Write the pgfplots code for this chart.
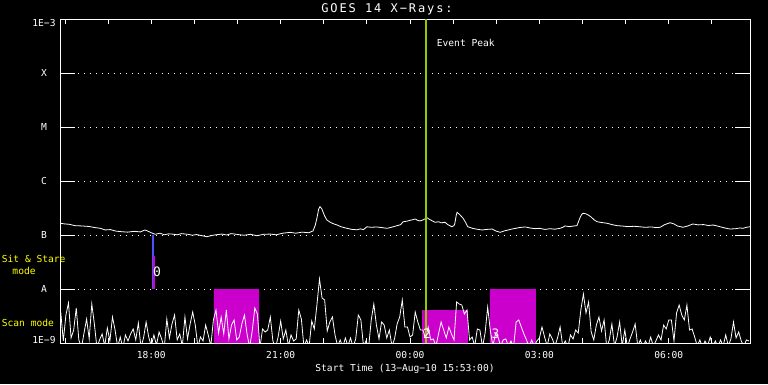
\documentclass[border=0pt]{standalone}
\usepackage{pgfplots}
\pgfplotsset{compat=1.18}
\usepackage{fontspec}
\setmainfont{DejaVu Sans Mono}
\newfontfamily\idlwidefam[LetterSpace=16]{DejaVu Sans Mono}
\newcommand{\idl}{\fontsize{9.6pt}{11pt}\selectfont}
\newcommand{\idltitle}{\idlwidefam\fontsize{12pt}{14pt}\selectfont}
\definecolor{scanmag}{RGB}{204,0,204}
\definecolor{evgreen}{RGB}{150,200,0}
\definecolor{ssblue}{RGB}{80,80,255}
\definecolor{idlyellow}{RGB}{255,255,0}
\begin{document}
\begin{tikzpicture}[x=1pt,y=1pt]
\fill[black] (0,0) rectangle (768,384);
\useasboundingbox (0,0) rectangle (768,384);
\begin{axis}[
  at={(60pt,41pt)}, anchor=south west,
  scale only axis, width=690pt, height=324pt,
  xmin=15.883, xmax=31.883,
  ymode=log, ymin=1, ymax=1000000,
  axis line style={white, line width=1pt},
  xtick={18,21,24,27,30},
  xticklabels={18:00,21:00,00:00,03:00,06:00},
  minor xtick={16,17,19,20,22,23,25,26,28,29,31},
  major tick length=5pt, minor tick length=5pt,
  tick style={white, line width=1pt},
  ytick={1,10,100,1000,10000,100000,1000000},
  yticklabels={,A,B,C,M,X,},
  ytick style={draw=none},
  yminorticks=false,
  ymajorgrids,
  major grid style={white, line width=0.9pt, dash pattern=on 1pt off 5pt},
  tick label style={white, font=\idl},
  xticklabel style={anchor=center, yshift=-12pt},
  yticklabel style={anchor=center, xshift=-16pt},
  clip=true,
]
% scan-mode rectangles
\addplot[fill=scanmag, draw=none] coordinates {(19.45,1) (19.45,10) (20.50,10) (20.50,1) (19.45,1)};
\addplot[fill=scanmag, draw=none] coordinates {(24.28,1) (24.28,4.08) (25.34,4.08) (25.34,1) (24.28,1)};
\addplot[fill=scanmag, draw=none] coordinates {(25.85,1) (25.85,10) (26.92,10) (26.92,1) (25.85,1)};
% short channel (units of 1E-9)
\addplot[white, line width=0.8pt] coordinates {
(15.90,3.75) (15.96,1.09) (16.02,3.30) (16.08,5.51) (16.14,1.24) (16.20,1.74) (16.26,4.45) (16.32,1.14)
(16.38,0.81) (16.44,1.53) (16.50,2.78) (16.56,1.19) (16.62,5.28) (16.68,2.25) (16.74,0.81) (16.80,1.14)
(16.86,1.47) (16.92,0.88) (16.98,1.90) (17.04,1.09) (17.10,3.03) (17.16,1.74) (17.22,0.84) (17.28,1.29)
(17.34,0.81) (17.40,1.41) (17.46,1.09) (17.52,1.47) (17.58,1.82) (17.64,1.14) (17.70,2.35) (17.76,0.84)
(17.82,1.24) (17.88,2.45) (17.94,1.29) (18.00,0.88) (18.06,1.41) (18.12,0.92) (18.18,1.60) (18.24,1.19)
(18.30,0.81) (18.36,2.78) (18.42,1.24) (18.48,2.25) (18.54,3.30) (18.60,1.14) (18.66,1.47) (18.72,0.88)
(18.78,3.03) (18.84,1.19) (18.90,2.25) (18.96,3.75) (19.02,2.15) (19.08,0.84) (19.14,1.29) (19.20,1.09)
(19.26,2.15) (19.32,1.41) (19.38,0.88) (19.44,2.67) (19.50,4.08) (19.56,1.53) (19.62,3.03) (19.68,1.47)
(19.74,4.08) (19.80,1.19) (19.86,2.15) (19.92,2.67) (19.98,1.14) (20.04,1.29) (20.10,2.25) (20.16,3.30)
(20.22,1.47) (20.28,0.84) (20.34,1.67) (20.40,4.45) (20.46,3.44) (20.52,0.84) (20.58,1.82) (20.64,1.60)
(20.70,1.74) (20.76,3.03) (20.82,1.09) (20.88,0.81) (20.94,1.29) (21.00,2.55) (21.06,1.19) (21.12,1.74)
(21.18,0.88) (21.24,1.41) (21.30,1.09) (21.36,1.19) (21.42,4.08) (21.48,2.78) (21.54,0.84) (21.60,1.14)
(21.66,0.88) (21.72,2.55) (21.78,1.82) (21.84,5.05) (21.90,15.3) (21.96,6.81) (22.02,6.26) (22.08,1.67)
(22.14,2.45) (22.20,3.03) (22.26,1.41) (22.32,0.88) (22.38,1.14) (22.44,0.84) (22.50,1.24) (22.56,0.88)
(22.62,1.24) (22.68,0.84) (22.74,1.19) (22.80,3.30) (22.86,2.67) (22.92,0.88) (22.98,1.09) (23.04,0.84)
(23.10,2.67) (23.16,5.28) (23.22,2.15) (23.28,1.19) (23.34,2.45) (23.40,2.15) (23.46,1.24) (23.52,1.74)
(23.58,0.88) (23.64,1.19) (23.70,2.25) (23.76,3.03) (23.82,6.26) (23.88,1.98) (23.94,1.98) (24.00,1.29)
(24.06,1.41) (24.12,3.75) (24.18,2.45) (24.24,1.74) (24.30,1.74) (24.36,1.19) (24.42,1.98) (24.48,1.14)
(24.54,1.19) (24.60,0.88) (24.66,1.47) (24.72,2.45) (24.78,1.74) (24.84,1.24) (24.90,1.98) (24.96,1.47)
(25.02,1.14) (25.08,5.75) (25.14,5.28) (25.20,5.05) (25.26,3.44) (25.32,4.08) (25.38,1.14) (25.44,1.29)
(25.50,0.88) (25.56,1.82) (25.62,1.74) (25.68,0.84) (25.74,1.53) (25.80,4.64) (25.86,1.74) (25.92,0.88)
(25.98,1.47) (26.04,1.29) (26.10,0.88) (26.16,1.14) (26.22,1.19) (26.28,0.88) (26.34,1.09) (26.40,0.84)
(26.46,2.45) (26.52,2.67) (26.58,1.98) (26.64,1.47) (26.70,1.14) (26.76,0.84) (26.82,1.14) (26.88,0.88)
(26.94,1.09) (27.00,1.24) (27.06,1.98) (27.12,1.29) (27.18,0.88) (27.24,1.47) (27.30,1.19) (27.36,0.88)
(27.42,1.24) (27.48,1.98) (27.54,0.88) (27.60,1.09) (27.66,0.84) (27.72,1.41) (27.78,1.19) (27.84,1.74)
(27.90,1.53) (27.96,4.08) (28.02,8.08) (28.08,3.59) (28.14,5.75) (28.20,1.60) (28.26,1.14) (28.32,2.15)
(28.38,3.03) (28.44,1.67) (28.50,2.67) (28.56,0.84) (28.62,1.14) (28.68,2.25) (28.74,0.88) (28.80,1.29)
(28.86,2.45) (28.92,0.88) (28.98,1.74) (29.04,0.84) (29.10,1.19) (29.16,1.60) (29.22,2.25) (29.28,0.88)
(29.34,1.14) (29.40,0.84) (29.46,1.09) (29.52,0.88) (29.58,1.29) (29.64,0.88) (29.70,1.09) (29.76,1.41)
(29.82,1.14) (29.88,2.15) (29.94,1.82) (30.00,2.67) (30.06,2.67) (30.12,1.09) (30.18,3.59) (30.24,5.05)
(30.30,3.30) (30.36,2.67) (30.42,5.05) (30.48,1.74) (30.54,1.82) (30.60,1.29) (30.66,0.88) (30.72,1.14)
(30.78,0.84) (30.84,1.09) (30.90,0.88) (30.96,1.29) (31.02,0.88) (31.08,1.09) (31.14,0.84) (31.20,1.14)
(31.26,0.88) (31.32,1.41) (31.38,0.88) (31.44,1.19) (31.50,2.45) (31.56,1.24) (31.62,1.60) (31.68,1.09)
(31.74,0.88) (31.80,1.14) (31.86,1.09)
};
% long channel (units of 1E-9)
\addplot[white, line width=0.8pt] coordinates {
(15.89,165) (16.00,160) (16.10,158) (16.23,149) (16.40,147) (16.55,144) (16.70,137) (16.82,133)
(16.93,124) (17.05,126) (17.18,118) (17.32,115) (17.45,113) (17.60,117) (17.75,114) (17.85,124)
(17.90,120) (18.00,110) (18.09,103) (18.20,108) (18.30,101) (18.40,105) (18.48,104) (18.60,101)
(18.70,106) (18.85,103) (18.95,99) (19.05,102) (19.15,98) (19.29,93) (19.40,98) (19.50,101)
(19.64,104) (19.75,100) (19.85,106) (19.94,104) (20.05,101) (20.15,99) (20.30,103) (20.45,97)
(20.60,103) (20.75,104) (20.90,101) (21.05,108) (21.22,112) (21.35,108) (21.50,113) (21.65,110)
(21.75,119) (21.80,150) (21.84,204) (21.88,300) (21.91,334) (21.95,310) (21.98,270) (22.02,225)
(22.07,190) (22.15,172) (22.22,162) (22.31,153) (22.40,142) (22.54,133) (22.65,127) (22.77,125)
(22.85,130) (22.92,126) (23.00,142) (23.10,139) (23.23,141) (23.35,137) (23.47,133) (23.58,140)
(23.70,149) (23.78,155) (23.84,176) (23.92,180) (24.00,187) (24.06,192) (24.12,198) (24.18,186)
(24.23,182) (24.30,190) (24.39,209) (24.45,195) (24.52,182) (24.58,172) (24.66,176) (24.72,168)
(24.81,172) (24.88,155) (24.97,142) (25.02,150) (25.04,165) (25.07,230) (25.09,263) (25.15,240)
(25.23,204) (25.28,175) (25.34,142) (25.45,133) (25.55,128) (25.67,124) (25.78,127) (25.90,129)
(26.00,118) (26.09,112) (26.20,120) (26.28,124) (26.36,129) (26.45,133) (26.55,138) (26.67,141)
(26.78,135) (26.90,131) (27.00,133) (27.13,127) (27.25,131) (27.35,128) (27.48,133) (27.55,140)
(27.59,147) (27.70,143) (27.80,147) (27.87,149) (27.91,180) (27.94,209) (27.98,240) (28.01,252)
(28.07,248) (28.13,235) (28.20,215) (28.27,190) (28.34,176) (28.45,170) (28.57,165) (28.68,156)
(28.80,149) (28.95,146) (29.05,143) (29.20,145) (29.33,142) (29.45,139) (29.60,141) (29.70,137)
(29.80,139) (29.90,155) (30.03,169) (30.12,160) (30.20,147) (30.33,139) (30.45,148) (30.56,160)
(30.68,154) (30.80,156) (30.92,150) (31.03,153) (31.15,145) (31.28,136) (31.42,129) (31.55,131)
(31.65,135) (31.72,133) (31.80,139) (31.88,142)
};
% sit & stare markers
\addplot[ssblue, line width=2pt] coordinates {(18.03,10) (18.03,100)};
\addplot[scanmag, line width=2pt] coordinates {(18.07,10) (18.07,40.8)};
% event peak
\addplot[evgreen, line width=2pt] coordinates {(24.38,1) (24.38,1000000)};
% y tick segments
\pgfplotsinvokeforeach{1,2,3,4,5}{
  \draw[white, line width=1pt] (rel axis cs:0,#1/6) -- ([xshift=15pt]rel axis cs:0,#1/6);
  \draw[white, line width=1pt] (rel axis cs:1,#1/6) -- ([xshift=-15pt]rel axis cs:1,#1/6);
}
\end{axis}
% texts
\node[white, font=\idl] at (44,44) {1E−9};
\node[white, font=\idl] at (44,361) {1E−3};
\node[white, font=\idltitle] at (387,374.5) {GOES 14 X−Rays:};
\node[white, font=\idl] at (405,15.3) {Start Time (13−Aug−10 15:53:00)};
\node[white, font=\idl, anchor=west, inner sep=0pt] at (436.7,341) {Event Peak};
\node[idlyellow, font=\idl, anchor=west, inner sep=0pt] at (1.7,125) {Sit \& Stare};
\node[idlyellow, font=\idl, anchor=west, inner sep=0pt] at (12.3,113) {mode};
\node[idlyellow, font=\idl, anchor=west, inner sep=0pt] at (1.7,61) {Scan mode};
\node[white, font=\fontsize{13pt}{14pt}\selectfont, inner sep=0pt] at (157,112) {0};
\node[white, font=\fontsize{13pt}{14pt}\selectfont, inner sep=0pt] at (427,50) {2};
\node[white, font=\fontsize{13pt}{14pt}\selectfont, inner sep=0pt] at (495.5,50) {3};
\end{tikzpicture}
\end{document}
